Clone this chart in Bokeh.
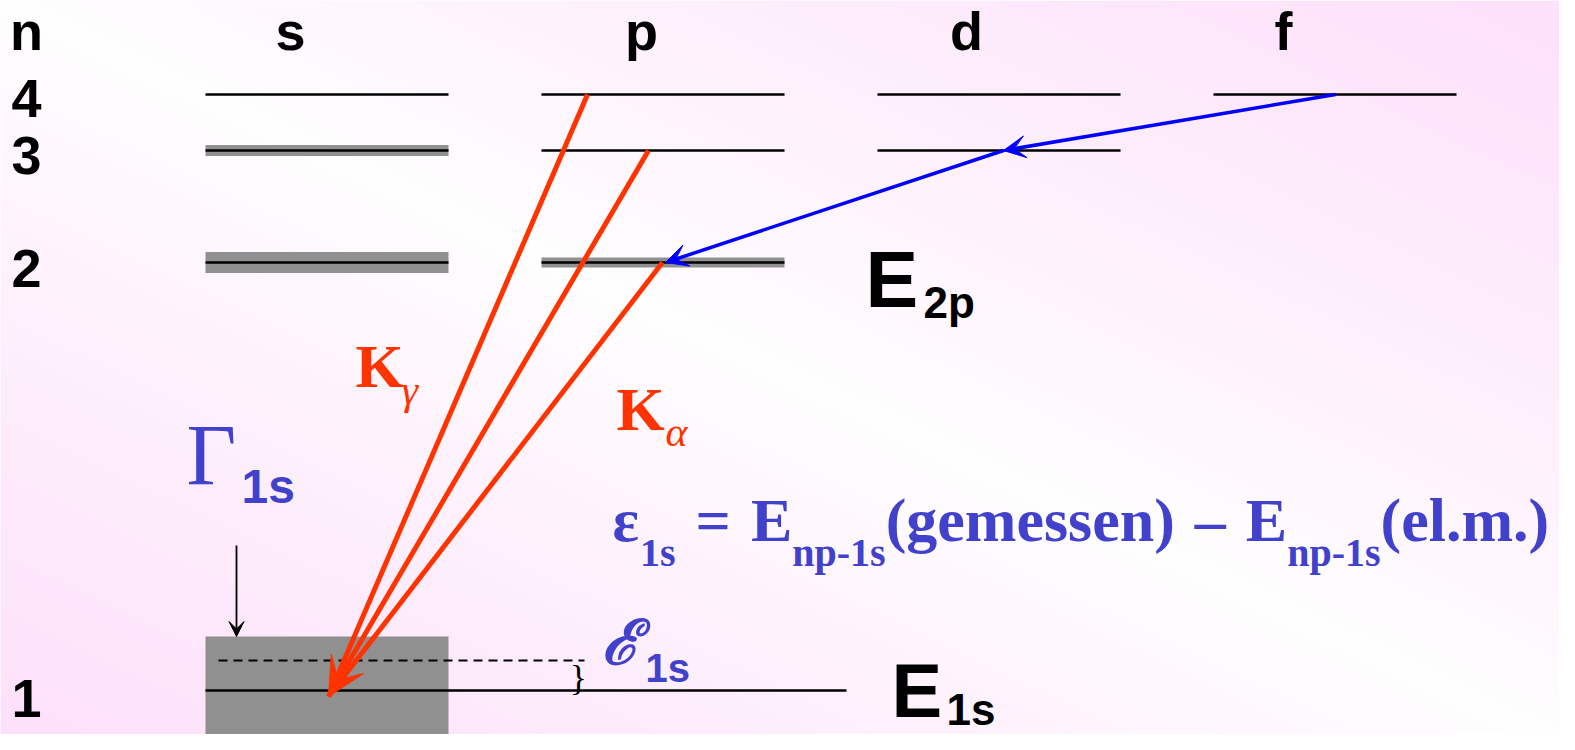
import numpy as np
from bokeh.plotting import figure
from bokeh.models import Range1d, Arrow, VeeHead
from bokeh.core.properties import value
from bokeh.embed import file_html
from bokeh.resources import INLINE

# ---------------- data (reference pixel coordinates, y measured from top) ----------------
H = 750
orbitals = ["s", "p", "d", "f"]
orbital_left = [205, 541, 877, 1213]
orbital_label_x = [290, 641, 966, 1283]
level_width = 243
shell_labels = ["n", "4", "3", "2", "1"]
shell_label_y = [50, 117, 174, 287, 717]
shell_y = {4: 94, 3: 150, 2: 262, 1: 690}
# which orbitals exist for each shell
shell_orbitals = {4: [0, 1, 2, 3], 3: [0, 1, 2], 2: [0, 1], 1: [0]}
# natural width bands (half thickness) of broadened levels: (shell, orbital) -> half width
band_half = {(3, 0): 5.5, (2, 0): 10.5, (2, 1): 5.0}
ground_right = 846
ground_box_top = 636
shifted_level_y = 660
shifted_level_right = 584

# X-ray transitions np -> 1s (K-gamma, K-beta, K-alpha)
k_start_x = [587, 648, 662]
k_start_y = [94, 150, 262]
k_end = (328, 696)
# cascade 4f -> 3d -> 2p
cascade_x = [1335, 1003, 665]
cascade_y = [94, 150, 262]

RED = "#ff3300"
BLUE = "#0000ff"
TXTBLUE = "#4141cc"
GRAY = "#909090"

def Y(y):
    return H - y

p = figure(width=1559, height=734, output_backend="svg", toolbar_location=None,
           x_range=Range1d(0, 1559), y_range=Range1d(16, 750), min_border=0)
p.axis.visible = False
p.grid.visible = False
p.outline_line_color = None
p.background_fill_color = "white"
p.border_fill_color = "white"

# ---------------- background gradient ----------------
W, Hh = 1559, 734
xs = np.linspace(0, 1559, W)
ys = np.linspace(0, 734, Hh)
XX, YY = np.meshgrid(xs, ys)           # YY = reference y (top-down)
u = np.clip(np.abs(XX / 1575 - YY / 750), 0, 1)
w = u ** 0.85
r = (255 - 2 * w).astype(np.uint32)
g = (255 - 31 * w).astype(np.uint32)
b = (255 - 5 * w).astype(np.uint32)
img = (255 << 24) | (b << 16) | (g << 8) | r
img = np.flipud(img).astype(np.uint32)
p.image_rgba(image=[img], x=0, y=16, dw=1559, dh=734)

# ---------------- levels ----------------
for (n, o), hw in band_half.items():
    x0 = orbital_left[o]
    p.quad(left=x0, right=x0 + level_width, top=Y(shell_y[n] - hw), bottom=Y(shell_y[n] + hw),
           fill_color=GRAY, line_color=None)

# ground state box
p.quad(left=orbital_left[0], right=orbital_left[0] + level_width, top=Y(ground_box_top), bottom=0,
       fill_color=GRAY, line_color=None)

seg_x0, seg_x1, seg_y = [], [], []
for n, orbs in shell_orbitals.items():
    for o in orbs:
        x0 = orbital_left[o]
        x1 = ground_right if n == 1 else x0 + level_width
        seg_x0.append(x0); seg_x1.append(x1); seg_y.append(Y(shell_y[n]))
p.segment(x0=seg_x0, y0=seg_y, x1=seg_x1, y1=seg_y, line_color="black", line_width=2.5)

# shifted (measured) 1s level, dashed
p.segment(x0=[218], y0=[Y(shifted_level_y)], x1=[shifted_level_right], y1=[Y(shifted_level_y)],
          line_color="black", line_width=2.2, line_dash="9 6")

# ---------------- arrows ----------------
for i, (sx, sy) in enumerate(zip(k_start_x, k_start_y)):
    head = VeeHead(size=38, fill_color=RED, line_color=RED, line_width=1) if i == 1 else None
    p.add_layout(Arrow(x_start=sx, y_start=Y(sy), x_end=k_end[0], y_end=Y(k_end[1]),
                       line_color=RED, line_width=5, end=head))
for i in range(len(cascade_x) - 1):
    p.add_layout(Arrow(x_start=cascade_x[i], y_start=Y(cascade_y[i]),
                       x_end=cascade_x[i + 1], y_end=Y(cascade_y[i + 1]),
                       line_color=BLUE, line_width=3.5,
                       end=VeeHead(size=22, fill_color=BLUE, line_color=BLUE, line_width=1)))
# width indicator arrow
p.add_layout(Arrow(x_start=236, y_start=Y(545), x_end=236, y_end=Y(636),
                   line_color="black", line_width=1.8,
                   end=VeeHead(size=15, fill_color="black", line_color="black", line_width=1)))

# ---------------- texts ----------------
SANS = value("Liberation Sans")
SERIF = value("Liberation Serif")
BASE_CORR = 0.36  # renderer places alphabetic baseline this many em too low

def txt(x, y, t, size, font=SANS, color="black", style="bold", align="left"):
    p.text(x=[x], y=[Y(y - BASE_CORR * size)], text=[t], text_font=font,
           text_font_size=value(f"{size}px"), text_font_style=style, text_color=color,
           text_align=align, text_baseline="alphabetic")

for lab, ly in zip(shell_labels, shell_label_y):
    txt(26, ly, lab, 54, align="center")
for lab, lx in zip(orbitals, orbital_label_x):
    txt(lx, 50, lab, 54, align="center")

txt(865, 307, "E", 79)
txt(923, 318, "2p", 44)
txt(891, 717, "E", 76)
txt(946, 725, "1s", 44)

txt(355, 388, "K", 62, font=SERIF, color=RED)
txt(401, 405, "γ", 42, font=SERIF, color=RED, style="italic")
txt(616, 431, "K", 62, font=SERIF, color=RED)
txt(665, 447, "α", 42, font=SERIF, color=RED, style="italic")

txt(186, 485, "Γ", 86, font=SERIF, color=TXTBLUE, style="normal")
txt(241, 503, "1s", 48, color=TXTBLUE)

txt(601, 664, "ℰ", 62, font=value("DejaVu Serif"), color=TXTBLUE, style="bold italic")
txt(645, 682, "1s", 40, color=TXTBLUE)
txt(578, 690, "}", 36, font=SERIF, style="normal", align="center")

# formula: eps_1s = E_np-1s(gemessen) - E_np-1s(el.m.)
F, f = 62, 40
gap = 20
formula = [("ε", F, .444, 0), ("1s", f, .889, gap), ("=", F, .57, gap), ("E", F, .667, 0),
           ("np-1s", f, 2.334, 0), ("(gemessen)", F, 4.665, gap), ("–", F, .5, gap),
           ("E", F, .667, 0), ("np-1s", f, 2.334, 0), ("(el.m.)", F, 2.721, 0)]
fx = 612
for t, s, em, after in formula:
    base = 542 if s == F else 566
    txt(fx, base, t, s, font=SERIF, color=TXTBLUE)
    fx += em * s + after

open("out.html", "w").write(file_html(p, INLINE))
